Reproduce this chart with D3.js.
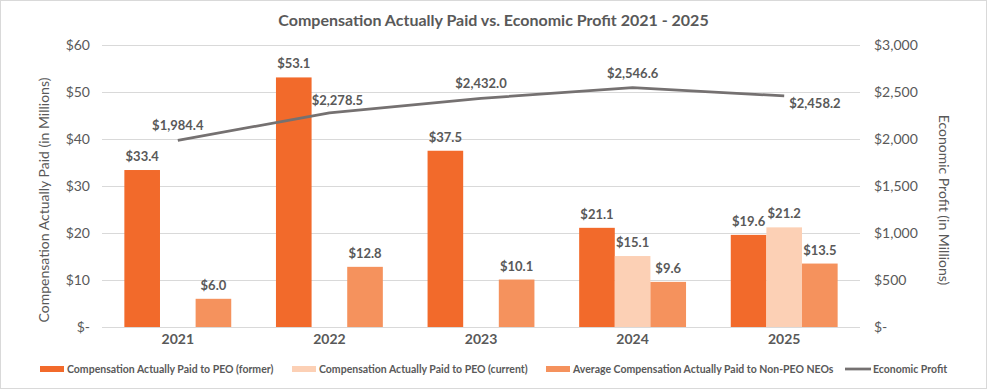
<!DOCTYPE html>
<html>
<head>
<script src="https://d3js.org/d3.v7.min.js"></script>
<style>
  body { margin: 0; background: #fff; }
  svg { display: block; font-family: Lato, "Open Sans", sans-serif; }
</style>
</head>
<body>
<script>
// data
const years = ["2021", "2022", "2023", "2024", "2025"];
const peoFormer = [33.4, 53.1, 37.5, 21.1, 19.6];
const peoCurrent = [null, null, null, 15.1, 21.2];
const nonPeo = [6.0, 12.8, 10.1, 9.6, 13.5];
const economicProfit = [1984.4, 2278.5, 2432.0, 2546.6, 2458.2];
const leftTicks = [0, 10, 20, 30, 40, 50, 60];
const rightTicks = [0, 500, 1000, 1500, 2000, 2500, 3000];
const seriesNames = ["Compensation Actually Paid to PEO (former)",
                     "Compensation Actually Paid to PEO (current)",
                     "Average Compensation Actually Paid to Non-PEO NEOs",
                     "Economic Profit"];
// where each economic profit label sits relative to its point
const epLabelPos = ["above", "aboveRight", "above", "above", "right"];

const W = 987, H = 389;
const m = {left: 102, right: 127, top: 45, bottom: 62};
const pw = W - m.left - m.right, ph = H - m.top - m.bottom;
const colors = ["#f26a2b", "#fcd0b5", "#f5925d"];
const lineColor = "#757171";
const textColor = "#595959";

const svg = d3.select("body").append("svg").attr("width", W).attr("height", H);

// outer frame
svg.append("rect").attr("x", 0.5).attr("y", 0.5).attr("width", W - 1).attr("height", H - 1)
  .attr("fill", "#fff").attr("stroke", "#d9d9d9");

svg.append("text").attr("x", W / 2).attr("y", 26).attr("text-anchor", "middle")
  .attr("font-size", 16).attr("font-weight", 700).attr("fill", textColor)
  .text("Compensation Actually Paid vs. Economic Profit 2021 - 2025");

const g = svg.append("g").attr("transform", `translate(${m.left},${m.top})`);

const x = d3.scaleBand().domain(years).range([0, pw]).paddingInner(0.295).paddingOuter(0.1475);
const xs = d3.scaleBand().domain([0, 1, 2]).range([0, x.bandwidth()]);
const yL = d3.scaleLinear().domain([0, 60]).range([ph, 0]);
const yR = d3.scaleLinear().domain([0, 3000]).range([ph, 0]);
const fmt = v => v === 0 ? "$-" : "$" + d3.format(",")(v);

// gridlines + left axis
const ax = g.append("g").call(d3.axisLeft(yL).tickValues(leftTicks).tickSize(-pw).tickPadding(12).tickFormat(fmt));
ax.select(".domain").remove();
ax.selectAll("line").attr("stroke", "#d9d9d9");
ax.selectAll("text").attr("font-size", 14).attr("fill", textColor).attr("font-family", "Lato");

const axr = g.append("g").attr("transform", `translate(${pw},0)`)
  .call(d3.axisRight(yR).tickValues(rightTicks).tickSize(0).tickPadding(14).tickFormat(fmt));
axr.select(".domain").remove();
axr.selectAll("text").attr("font-size", 14).attr("fill", textColor).attr("font-family", "Lato");

const axb = g.append("g").attr("transform", `translate(0,${ph})`)
  .call(d3.axisBottom(x).tickSize(0).tickPadding(7));
axb.select(".domain").remove();
axb.selectAll("text").attr("font-size", 14).attr("font-weight", 700).attr("fill", textColor).attr("font-family", "Lato");

// axis titles
svg.append("text").attr("transform", "translate(49,200) rotate(-90)")
  .attr("text-anchor", "middle").attr("font-size", 14).attr("fill", textColor)
  .text("Compensation Actually Paid (in Millions)");
svg.append("text").attr("transform", "translate(939,200) rotate(90)")
  .attr("text-anchor", "middle").attr("font-size", 14).attr("fill", textColor)
  .text("Economic Profit (in Millions)");

// bars
const barSeries = [peoFormer, peoCurrent, nonPeo];
barSeries.forEach((vals, si) => {
  const rows = years.map((yr, i) => ({yr, v: vals[i]})).filter(d => d.v != null);
  g.selectAll(".b" + si).data(rows).join("rect")
    .attr("x", d => x(d.yr) + xs(si))
    .attr("y", d => yL(d.v))
    .attr("width", xs.bandwidth())
    .attr("height", d => ph - yL(d.v))
    .attr("fill", colors[si]);
  g.selectAll(".bl" + si).data(rows).join("text")
    .attr("x", d => x(d.yr) + xs(si) + xs.bandwidth() / 2)
    .attr("y", d => yL(d.v) - 9)
    .attr("text-anchor", "middle").attr("font-size", 13).attr("font-weight", 700)
    .attr("fill", textColor)
    .text(d => "$" + d.v.toFixed(1));
});

// economic profit line
const pts = years.map((yr, i) => [x(yr) + x.bandwidth() / 2, yR(economicProfit[i])]);
g.append("path").attr("d", d3.line()(pts)).attr("fill", "none")
  .attr("stroke", lineColor).attr("stroke-width", 2.75).attr("stroke-linejoin", "round");
const epFmt = d3.format(",.1f");
pts.forEach((p, i) => {
  const pos = epLabelPos[i];
  let dx = 0, dy = -10, anchor = "middle";
  if (pos === "aboveRight") { dx = 8; dy = -8; }
  if (pos === "right") { dx = 5; dy = 12; anchor = "start"; }
  g.append("text").attr("x", p[0] + dx).attr("y", p[1] + dy)
    .attr("text-anchor", anchor).attr("font-size", 13).attr("font-weight", 700)
    .attr("fill", textColor).text("$" + epFmt(economicProfit[i]));
});

// legend
const legX = [40, 292, 546, 845];
const lg = svg.append("g").attr("transform", "translate(0,369)");
seriesNames.forEach((name, i) => {
  if (i < 3) {
    lg.append("rect").attr("x", legX[i]).attr("y", -3).attr("width", 24).attr("height", 6).attr("fill", colors[i]);
  } else {
    lg.append("line").attr("x1", legX[i]).attr("x2", legX[i] + 26).attr("y1", 0).attr("y2", 0)
      .attr("stroke", lineColor).attr("stroke-width", 2.75);
  }
  lg.append("text").attr("x", legX[i] + (i < 3 ? 27 : 28)).attr("y", 4)
    .attr("font-size", 10.5).attr("font-weight", 700).attr("fill", textColor).text(name);
});
</script>
</body>
</html>
